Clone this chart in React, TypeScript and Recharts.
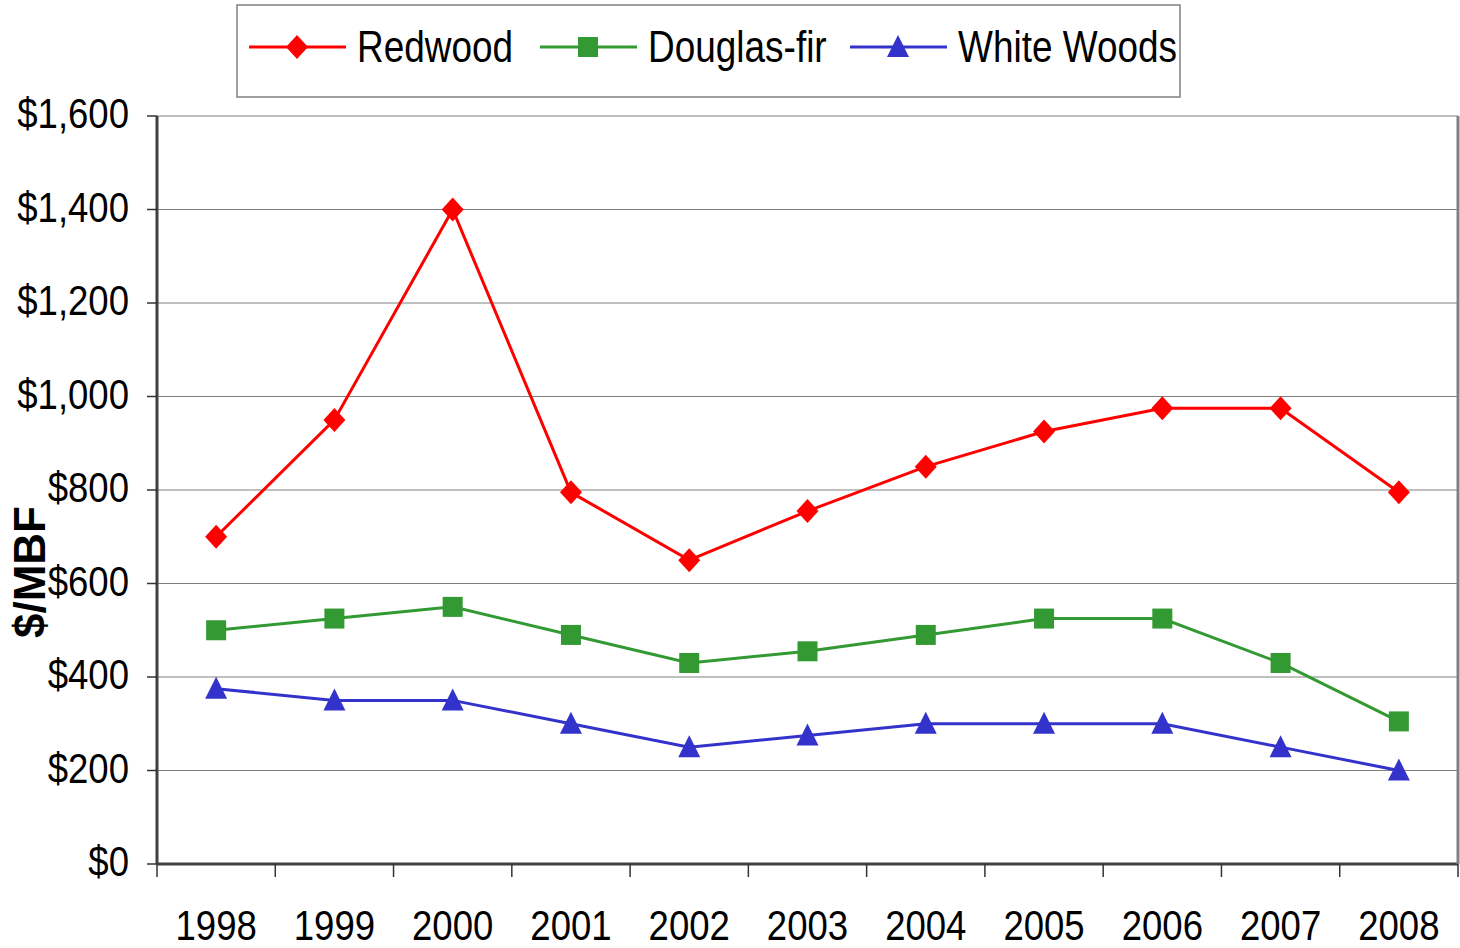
import React from 'react';
import { LineChart, Line, XAxis, YAxis, CartesianGrid } from 'recharts';

const years = ['1998', '1999', '2000', '2001', '2002', '2003', '2004', '2005', '2006', '2007', '2008'];
const redwood = [700, 950, 1400, 795, 650, 755, 850, 925, 975, 975, 795];
const douglasFir = [500, 525, 550, 490, 430, 455, 490, 525, 525, 430, 305];
const whiteWoods = [375, 350, 350, 300, 250, 275, 300, 300, 300, 250, 200];
const yTicks = [0, 200, 400, 600, 800, 1000, 1200, 1400, 1600];

const seriesNames = ['Redwood', 'Douglas-fir', 'White Woods'];
const seriesColors = ['#ff0000', '#339933', '#3333cc'];

const FONT = '"Liberation Sans", Arial, sans-serif';
const W = 1460;
const H = 948;
const Y_AXIS_W = 157;
const RIGHT_W = 2;
const X_AXIS_H = 84;
const PLOT_W = W - Y_AXIS_W - RIGHT_W;
const BAND = PLOT_W / years.length;

const data = years.map((year, i) => ({
  year,
  redwood: redwood[i],
  douglasFir: douglasFir[i],
  whiteWoods: whiteWoods[i],
}));

const fmt = (v: number) => '$' + v.toLocaleString('en-US');

function Marker({ kind, cx, cy, color }: { kind: number; cx: number; cy: number; color: string }) {
  if (kind === 0) {
    return <path d={`M${cx},${cy - 12} L${cx + 11},${cy} L${cx},${cy + 12} L${cx - 11},${cy} Z`} fill={color} />;
  }
  if (kind === 1) {
    return <rect x={cx - 10} y={cy - 10} width={20} height={20} fill={color} />;
  }
  return <path d={`M${cx},${cy - 12} L${cx + 11},${cy + 10} L${cx - 11},${cy + 10} Z`} fill={color} />;
}

const makeDot = (kind: number) => (props: any) => (
  <Marker key={`m-${kind}-${props.index}`} kind={kind} cx={props.cx} cy={props.cy} color={seriesColors[kind]} />
);

const XTick = (props: any) => {
  const { x, y, payload, index } = props;
  return (
    <g>
      <line x1={x - BAND / 2} x2={x - BAND / 2} y1={y} y2={y + 13} stroke="#333" strokeWidth={1.5} />
      {index === years.length - 1 && (
        <line x1={x + BAND / 2} x2={x + BAND / 2} y1={y} y2={y + 13} stroke="#333" strokeWidth={1.5} />
      )}
      <text
        transform={`translate(${x},${y + 76}) scale(0.85,1)`}
        textAnchor="middle"
        fontSize={43}
        fontFamily={FONT}
        fill="#000"
      >
        {payload.value}
      </text>
    </g>
  );
};

const YTick = (props: any) => {
  const { x, y, payload } = props;
  return (
    <text
      transform={`translate(${x - 18},${y + 12}) scale(0.85,1)`}
      textAnchor="end"
      fontSize={43}
      fontFamily={FONT}
      fill="#000"
    >
      {fmt(payload.value)}
    </text>
  );
};

function LegendBox() {
  const itemX = [13, 304, 614];
  return (
    <svg width={945} height={94} style={{ position: 'absolute', left: 236, top: 4 }}>
      <rect x={1} y={1} width={943} height={92} fill="#fff" stroke="#808080" strokeWidth={1.5} />
      {seriesNames.map((name, i) => (
        <g key={name}>
          <line x1={itemX[i]} x2={itemX[i] + 97} y1={43} y2={43} stroke={seriesColors[i]} strokeWidth={3} />
          <Marker kind={i} cx={itemX[i] + 48} cy={43} color={seriesColors[i]} />
          <text
            transform={`translate(${itemX[i] + 108},58) scale(0.84,1)`}
            fontSize={44}
            fontFamily={FONT}
            fill="#000"
          >
            {name}
          </text>
        </g>
      ))}
    </svg>
  );
}

export default function App() {
  return (
    <div style={{ position: 'absolute', left: 0, top: 0, width: W, height: H, background: '#fff' }}>
      <LineChart width={W} height={H} data={data} margin={{ top: 116, right: 0, bottom: 0, left: 0 }}>
        <CartesianGrid vertical={false} stroke="#808080" strokeWidth={1} />
        <XAxis
          dataKey="year"
          height={X_AXIS_H}
          padding={{ left: BAND / 2, right: BAND / 2 }}
          axisLine={{ stroke: '#404040', strokeWidth: 3 }}
          tickLine={false}
          tickSize={0}
          tickMargin={0}
          tick={<XTick />}
          interval={0}
        />
        <XAxis
          xAxisId="top"
          dataKey="year"
          orientation="top"
          height={0}
          tick={false}
          tickLine={false}
          axisLine={{ stroke: '#808080', strokeWidth: 3 }}
        />
        <YAxis
          width={Y_AXIS_W}
          domain={[0, 1600]}
          ticks={yTicks}
          interval={0}
          axisLine={{ stroke: '#404040', strokeWidth: 3 }}
          tickLine={{ stroke: '#333', strokeWidth: 1.5 }}
          tickSize={10}
          tickMargin={0}
          tick={<YTick />}
          label={{
            value: '$/MBF',
            content: () => (
              <text
                transform="translate(45,572) rotate(-90)"
                textAnchor="middle"
                fontSize={44}
                fontWeight="bold"
                fontFamily={FONT}
                fill="#000"
              >
                $/MBF
              </text>
            ),
          }}
        />
        <YAxis
          yAxisId="right"
          orientation="right"
          width={RIGHT_W}
          domain={[0, 1600]}
          tick={false}
          tickLine={false}
          axisLine={{ stroke: '#808080', strokeWidth: 3 }}
        />
        <Line dataKey="redwood" stroke={seriesColors[0]} strokeWidth={3} dot={makeDot(0)} activeDot={false} isAnimationActive={false} />
        <Line dataKey="douglasFir" stroke={seriesColors[1]} strokeWidth={3} dot={makeDot(1)} activeDot={false} isAnimationActive={false} />
        <Line dataKey="whiteWoods" stroke={seriesColors[2]} strokeWidth={3} dot={makeDot(2)} activeDot={false} isAnimationActive={false} />
      </LineChart>
      <LegendBox />
    </div>
  );
}
